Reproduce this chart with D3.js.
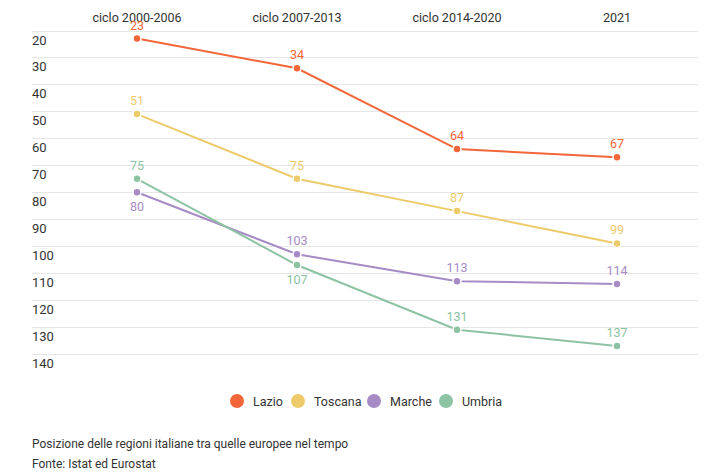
<!DOCTYPE html>
<html>
<head>
<meta charset="utf-8">
<script src="https://cdn.jsdelivr.net/npm/d3@7"></script>
<style>
  html, body { margin: 0; padding: 0; background: #fff; }
  svg { display: block; font-family: Roboto, "Noto Sans", sans-serif; }
</style>
</head>
<body>
<svg id="chart" width="711" height="474"></svg>
<script>
const categories = ["ciclo 2000-2006", "ciclo 2007-2013", "ciclo 2014-2020", "2021"];
const seriesNames = ["Lazio", "Toscana", "Marche", "Umbria"];
const lazio = [23, 34, 64, 67];
const toscana = [51, 75, 87, 99];
const marche = [80, 103, 113, 114];
const umbria = [75, 107, 131, 137];
const yTicks = [20, 30, 40, 50, 60, 70, 80, 90, 100, 110, 120, 130, 140];
const colors = ["#f26639", "#edca6a", "#a78bc5", "#8dc3a3"];
// label placement: true = below point
const labelBelow = [
  [false, false, false, false],
  [false, false, false, false],
  [true, false, false, false],
  [false, true, false, false]
];

const allSeries = [lazio, toscana, marche, umbria];
const svg = d3.select("#chart");

const x = d3.scalePoint().domain(categories).range([137, 617]);
const y = d3.scaleLinear().domain([20, 140]).range([30.5, 354]);

// gridlines and y labels
const grid = svg.append("g");
yTicks.forEach(t => {
  grid.append("line")
    .attr("x1", 32).attr("x2", 698)
    .attr("y1", Math.round(y(t)) + 0.5).attr("y2", Math.round(y(t)) + 0.5)
    .attr("stroke", "#e6e6e6").attr("stroke-width", 1);
  grid.append("text")
    .attr("x", 32).attr("y", y(t) + 14)
    .attr("font-size", 13).attr("fill", "#333")
    .text(t);
});

// category labels on top
svg.append("g").selectAll("text").data(categories).enter().append("text")
  .attr("x", d => x(d)).attr("y", 22)
  .attr("text-anchor", "middle").attr("font-size", 12.5).attr("fill", "#333")
  .text(d => d);

const line = d3.line().x((d, i) => x(categories[i])).y(d => y(d));

allSeries.forEach((vals, s) => {
  const g = svg.append("g");
  g.append("path").datum(vals).attr("d", line)
    .attr("fill", "none").attr("stroke", colors[s]).attr("stroke-width", 2);
  g.selectAll("circle").data(vals).enter().append("circle")
    .attr("cx", (d, i) => x(categories[i])).attr("cy", d => y(d))
    .attr("r", 4).attr("fill", colors[s])
    .attr("stroke", "#fff").attr("stroke-width", 1.5);
  g.selectAll("text").data(vals).enter().append("text")
    .attr("x", (d, i) => x(categories[i]))
    .attr("y", (d, i) => labelBelow[s][i] ? y(d) + 19 : y(d) - 9)
    .attr("text-anchor", "middle").attr("font-size", 12.5)
    .attr("fill", colors[s])
    .text(d => d);
});

// legend
const legendX = [237, 298, 374, 446];
const legend = svg.append("g");
seriesNames.forEach((n, i) => {
  legend.append("circle").attr("cx", legendX[i]).attr("cy", 401).attr("r", 7).attr("fill", colors[i]);
  legend.append("text").attr("x", legendX[i] + 16).attr("y", 405.5)
    .attr("font-size", 12.5).attr("fill", "#333").text(n);
});

// caption
svg.append("text").attr("x", 32).attr("y", 448).attr("font-size", 12).attr("fill", "#333")
  .text("Posizione delle regioni italiane tra quelle europee nel tempo");
svg.append("text").attr("x", 32).attr("y", 468).attr("font-size", 12).attr("fill", "#333")
  .text("Fonte: Istat ed Eurostat");
</script>
</body>
</html>
